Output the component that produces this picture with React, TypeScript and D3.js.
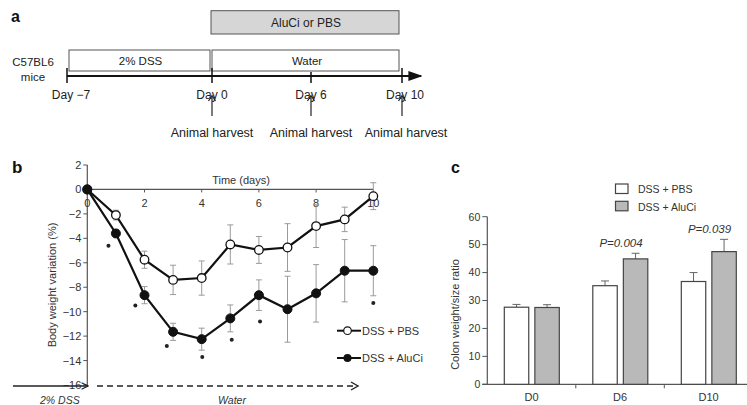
import React from "react";
import * as d3 from "d3";

// ---------- Panel a data ----------
const timelineDays = [-7, 0, 6, 10];
const timelineLabels = ["Day \u22127", "Day 0", "Day 6", "Day 10"];
const harvestDays = [0, 6, 10];
const harvestLabel = "Animal harvest";

// ---------- Panel b data ----------
const days = [0, 1, 2, 3, 4, 5, 6, 7, 8, 9, 10];
const pbsMean = [0, -2.1, -5.75, -7.4, -7.25, -4.5, -4.95, -4.75, -3.0, -2.45, -0.55];
const pbsErr = [0, 0.4, 0.7, 1.2, 1.4, 1.6, 1.1, 1.95, 1.75, 1.0, 1.1];
const aluMean = [0, -3.6, -8.65, -11.65, -12.25, -10.55, -8.65, -9.8, -8.5, -6.65, -6.65];
const aluErr = [0, 0.3, 0.7, 0.7, 0.9, 1.1, 1.25, 2.7, 2.35, 2.55, 2.05];
const starDays = [0.74, 1.68, 2.78, 4.02, 5.05, 6.04, 10];
const starValues = [-4.6, -9.5, -12.8, -13.7, -12.3, -10.8, -9.3];
const bYTicks = [2, 0, -2, -4, -6, -8, -10, -12, -14, -16];
const bXTicks = [0, 2, 4, 6, 8, 10];

// ---------- Panel c data ----------
const groups = ["D0", "D6", "D10"];
const seriesNames = ["DSS + PBS", "DSS + AluCi"];
const pbsBars = [27.6, 35.3, 36.8];
const pbsBarErr = [1.0, 1.7, 3.2];
const aluBars = [27.5, 44.9, 47.5];
const aluBarErr = [1.0, 2.0, 4.4];
const pLabels = ["", "P=0.004", "P=0.039"];
const cYTicks = [0, 10, 20, 30, 40, 50, 60];

const FONT = "'Liberation Sans', Arial, sans-serif";

export default function App() {
  // Panel a scale (schematic, piecewise)
  const tx = d3.scaleLinear().domain(timelineDays).range([67, 212, 311, 402]);
  const lineY = 76;

  // Panel b scales
  const bx = d3.scaleLinear().domain([0, 10]).range([87.3, 373.3]);
  const by = d3.scaleLinear().domain([-16, 2]).range([385, 165]);
  const line = d3
    .line<number>()
    .x((_, i) => bx(days[i]))
    .y((v) => by(v));

  // Panel c scales
  const cx = d3.scaleBand().domain(groups).range([487.3, 752.8]);
  const sx = d3.scaleBand().domain(seriesNames).range([17, 72]).paddingInner(0.2);
  const cy = d3.scaleLinear().domain([0, 60]).range([384.3, 216.7]);
  const barSeries = [
    { name: seriesNames[0], vals: pbsBars, errs: pbsBarErr, fill: "#ffffff" },
    { name: seriesNames[1], vals: aluBars, errs: aluBarErr, fill: "#b9b9b9" },
  ];

  const textCol = "#333";
  const errCol = "#9a9a9a";

  return (
    <svg
      width={747}
      height={405}
      style={{ position: "absolute", left: 0, top: 0, background: "#fff" }}
      fontFamily={FONT}
    >
      <defs>
        <marker id="arrTri" viewBox="0 0 10 10" refX="9" refY="5" markerWidth="7" markerHeight="7" orient="auto">
          <path d="M0,1.5 L10,5 L0,8.5 z" fill="#111" />
        </marker>
        <marker id="arrOpen" viewBox="0 0 10 10" refX="9" refY="5" markerWidth="8" markerHeight="8" orient="auto" markerUnits="userSpaceOnUse">
          <path d="M1,1 L9,5 L1,9" fill="none" stroke="#222" strokeWidth="1.4" />
        </marker>
      </defs>

      {/* ================= Panel a ================= */}
      <text x={11} y={22} fontSize={16} fontWeight="bold" fill="#111">a</text>
      <rect x={tx(0) - 1} y={10.7} width={tx(10) - tx(0) - 2} height={23.3} fill="#d6d6d6" stroke="#555" strokeWidth={1} />
      <text x={(tx(0) + tx(10)) / 2 - 1} y={26.5} fontSize={12} textAnchor="middle" fill="#222">AluCi or PBS</text>
      <rect x={tx(-7) + 2} y={50} width={tx(0) - tx(-7) - 4} height={21} fill="#fff" stroke="#555" strokeWidth={1} />
      <text x={(tx(-7) + tx(0)) / 2 + 1} y={65} fontSize={11.5} textAnchor="middle" fill="#222">2% DSS</text>
      <rect x={tx(0)} y={50} width={tx(10) - tx(0) - 3} height={21} fill="#fff" stroke="#555" strokeWidth={1} />
      <text x={(tx(0) + tx(10)) / 2} y={65} fontSize={11.5} textAnchor="middle" fill="#222">Water</text>
      <text x={33} y={66} fontSize={11.5} textAnchor="middle" fill="#222">C57BL6</text>
      <text x={33} y={81} fontSize={11.5} textAnchor="middle" fill="#222">mice</text>
      <line x1={tx(-7)} x2={421} y1={lineY} y2={lineY} stroke="#111" strokeWidth={2} markerEnd="url(#arrTri)" />
      {timelineDays.map((d, i) => (
        <g key={"td" + i}>
          <line x1={tx(d)} x2={tx(d)} y1={d === 6 ? 72 : 68} y2={83} stroke="#111" strokeWidth={1.5} />
          <text x={tx(d) + (d === -7 ? 4 : d === 10 ? 3 : 0)} y={99} fontSize={12} textAnchor="middle" fill="#222">
            {timelineLabels[i]}
          </text>
        </g>
      ))}
      {harvestDays.map((d, i) => (
        <g key={"h" + i} stroke="#222" strokeWidth={1.2} fill="none">
          <line x1={tx(d)} x2={tx(d)} y1={116} y2={96} />
          <path d={`M${tx(d) - 3.5},${101} L${tx(d)},${95.5} L${tx(d) + 3.5},${101}`} />
          <text x={tx(d) + (d === 10 ? 4 : 0)} y={136.5} fontSize={12.5} textAnchor="middle" fill="#222" stroke="none">
            {harvestLabel}
          </text>
        </g>
      ))}

      {/* ================= Panel b ================= */}
      <text x={12} y={173} fontSize={17} fontWeight="bold" fill="#111">b</text>
      {/* y axis */}
      <line x1={bx(0)} x2={bx(0)} y1={by(2)} y2={by(-16)} stroke="#555" strokeWidth={1.2} />
      {bYTicks.map((t) => (
        <g key={"by" + t}>
          <line x1={bx(0) - 4} x2={bx(0)} y1={by(t)} y2={by(t)} stroke="#555" strokeWidth={1} />
          <text x={bx(0) - 6} y={by(t) + 4} fontSize={11} textAnchor="end" fill={textCol}>
            {t < 0 ? "\u2212" + Math.abs(t) : String(t)}
          </text>
        </g>
      ))}
      {/* x axis at 0 */}
      <line x1={bx(0)} x2={bx(10)} y1={by(0)} y2={by(0)} stroke="#555" strokeWidth={1.2} />
      {bXTicks.map((t) => (
        <g key={"bx" + t}>
          <line x1={bx(t)} x2={bx(t)} y1={by(0)} y2={by(0) + 3} stroke="#555" strokeWidth={1} />
          <text x={bx(t)} y={by(0) + 18} fontSize={11} textAnchor="middle" fill={textCol}>{t}</text>
        </g>
      ))}
      <text x={241} y={184} fontSize={11} textAnchor="middle" fill={textCol}>Time (days)</text>
      <text
        transform={`translate(56, ${(by(2) + by(-16)) / 2 + 10}) rotate(-90)`}
        fontSize={11}
        textAnchor="middle"
        fill={textCol}
      >
        Body weight variation (%)
      </text>

      {/* error bars */}
      {[{ m: pbsMean, e: pbsErr }, { m: aluMean, e: aluErr }].map((s, si) =>
        days.map((d, i) =>
          s.e[i] > 0 ? (
            <g key={`eb${si}-${i}`} stroke={errCol} strokeWidth={1}>
              <line x1={bx(d)} x2={bx(d)} y1={by(s.m[i] + s.e[i])} y2={by(s.m[i] - s.e[i])} />
              <line x1={bx(d) - 3} x2={bx(d) + 3} y1={by(s.m[i] + s.e[i])} y2={by(s.m[i] + s.e[i])} />
              <line x1={bx(d) - 3} x2={bx(d) + 3} y1={by(s.m[i] - s.e[i])} y2={by(s.m[i] - s.e[i])} />
            </g>
          ) : null
        )
      )}
      <path d={line(pbsMean) || ""} fill="none" stroke="#111" strokeWidth={2.2} />
      <path d={line(aluMean) || ""} fill="none" stroke="#111" strokeWidth={2.2} />
      {days.map((d, i) => (
        <circle key={"pc" + i} cx={bx(d)} cy={by(pbsMean[i])} r={4.3} fill="#fff" stroke="#111" strokeWidth={1.3} />
      ))}
      {days.map((d, i) => (
        <circle key={"ac" + i} cx={bx(d)} cy={by(aluMean[i])} r={4.5} fill="#111" stroke="#111" strokeWidth={1} />
      ))}
      {starDays.map((d, i) => (
        <circle key={"st" + i} cx={bx(d)} cy={by(starValues[i])} r={2} fill="#222" />
      ))}

      {/* legend b */}
      <line x1={337} x2={361} y1={330.7} y2={330.7} stroke="#111" strokeWidth={2} />
      <circle cx={347.5} cy={330.7} r={3.8} fill="#fff" stroke="#111" strokeWidth={1.2} />
      <text x={362} y={334.7} fontSize={11} fill={textCol}>DSS + PBS</text>
      <line x1={337} x2={361} y1={358} y2={358} stroke="#111" strokeWidth={2} />
      <circle cx={347.5} cy={358} r={4} fill="#111" />
      <text x={362} y={362} fontSize={11} fill={textCol}>DSS + AluCi</text>

      {/* bottom arrows */}
      <line x1={13} x2={88} y1={by(-16) + 1} y2={by(-16) + 1} stroke="#222" strokeWidth={1.4} markerEnd="url(#arrOpen)" />
      <line x1={97} x2={356} y1={by(-16) + 1} y2={by(-16) + 1} stroke="#222" strokeWidth={1.4} strokeDasharray="6,4" />
      <path d={`M351,${by(-16) - 3} L358,${by(-16) + 1} L351,${by(-16) + 5}`} fill="none" stroke="#222" strokeWidth={1.4} />
      <text x={40} y={404} fontSize={10.5} fontStyle="italic" fill={textCol}>2% DSS</text>
      <text x={232} y={404} fontSize={10.5} fontStyle="italic" textAnchor="middle" fill={textCol}>Water</text>

      {/* ================= Panel c ================= */}
      <text x={451} y={173} fontSize={16} fontWeight="bold" fill="#111">c</text>
      <line x1={cx.range()[0]} x2={cx.range()[0]} y1={cy(60)} y2={cy(0)} stroke="#555" strokeWidth={1.2} />
      {cYTicks.map((t) => (
        <g key={"cy" + t}>
          <line x1={cx.range()[0] - 5} x2={cx.range()[0]} y1={cy(t)} y2={cy(t)} stroke="#555" strokeWidth={1} />
          <text x={cx.range()[0] - 7} y={cy(t) + 3.8} fontSize={10.5} textAnchor="end" fill={textCol}>{t}</text>
        </g>
      ))}
      <line x1={cx.range()[0] - 5} x2={747} y1={cy(0)} y2={cy(0)} stroke="#555" strokeWidth={1.2} />
      {groups.slice(1).map((g) => (
        <line key={"ct" + g} x1={cx(g)!} x2={cx(g)!} y1={cy(0)} y2={cy(0) + 4} stroke="#555" strokeWidth={1} />
      ))}
      {groups.map((g) => (
        <text key={"cl" + g} x={cx(g)! + cx.bandwidth() / 2} y={401} fontSize={11} textAnchor="middle" fill={textCol}>{g}</text>
      ))}
      <text
        transform={`translate(459, ${(cy(0) + cy(60)) / 2 + 14}) rotate(-90)`}
        fontSize={11}
        textAnchor="middle"
        fill={textCol}
      >
        Colon weight/size ratio
      </text>
      {barSeries.map((s) =>
        groups.map((g, i) => {
          const x0 = cx(g)! + sx(s.name)!;
          const w = sx.bandwidth();
          const mid = x0 + w / 2;
          return (
            <g key={s.name + g}>
              <line x1={mid} x2={mid} y1={cy(s.vals[i])} y2={cy(s.vals[i] + s.errs[i])} stroke="#666" strokeWidth={1} />
              <line x1={mid - 4} x2={mid + 4} y1={cy(s.vals[i] + s.errs[i])} y2={cy(s.vals[i] + s.errs[i])} stroke="#666" strokeWidth={1} />
              <rect x={x0} y={cy(s.vals[i])} width={w} height={cy(0) - cy(s.vals[i])} fill={s.fill} stroke="#444" strokeWidth={1.2} />
            </g>
          );
        })
      )}
      {groups.map((g, i) =>
        pLabels[i] ? (
          <text
            key={"p" + g}
            x={cx(g)! + cx.bandwidth() / 2 + 1}
            y={cy(Math.max(aluBars[i] + aluBarErr[i], pbsBars[i] + pbsBarErr[i])) - 6}
            fontSize={11.5}
            fontStyle="italic"
            textAnchor="middle"
            fill={textCol}
          >
            {pLabels[i]}
          </text>
        ) : null
      )}
      {barSeries.map((s, i) => (
        <g key={"lg" + i}>
          <rect x={615.5} y={184 + i * 17.3} width={12.5} height={9.5} fill={s.fill} stroke="#444" strokeWidth={1.2} />
          <text x={638} y={193.3 + i * 17.3} fontSize={10.5} fill={textCol}>{s.name}</text>
        </g>
      ))}
    </svg>
  );
}
